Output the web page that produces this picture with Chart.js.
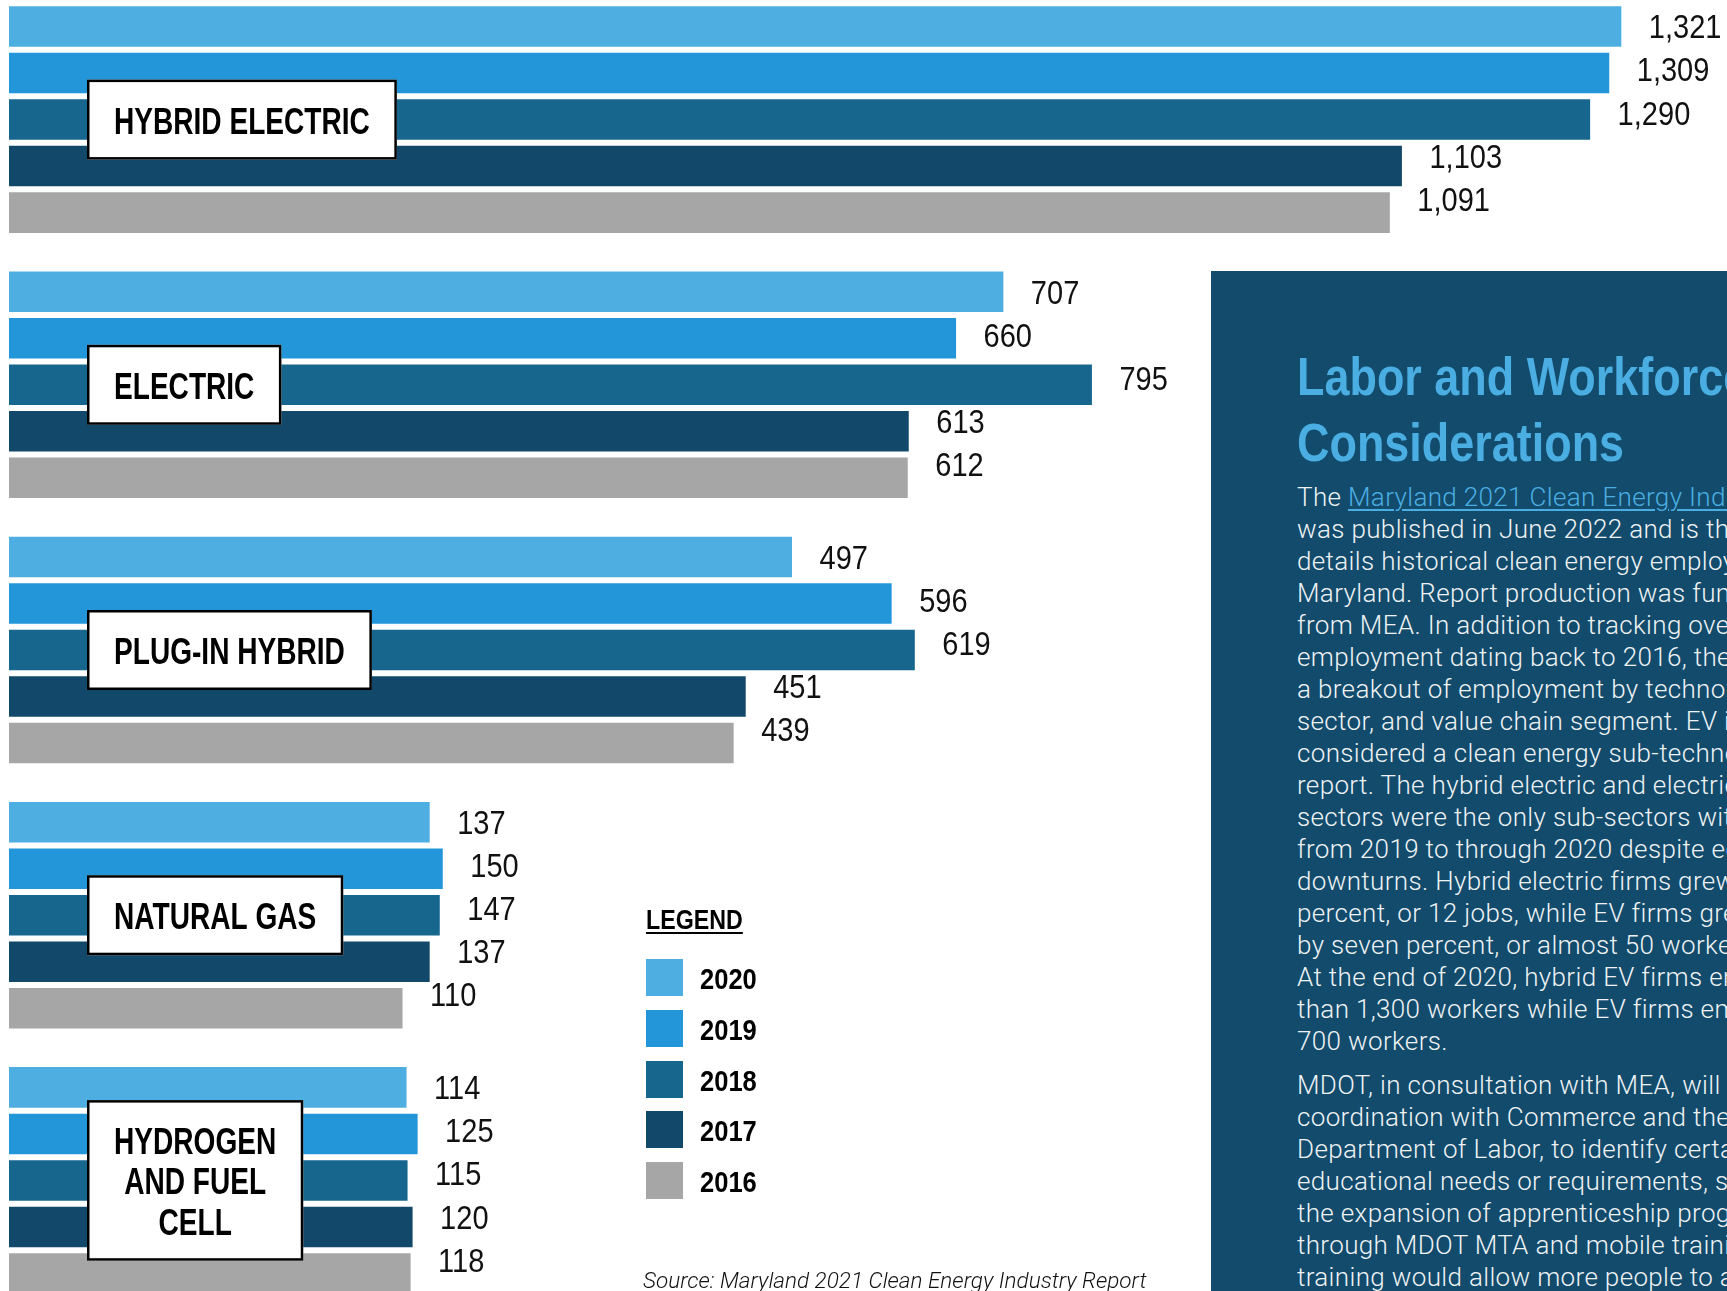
<!DOCTYPE html>
<html>
<head>
<meta charset="utf-8">
<script src="https://cdn.jsdelivr.net/npm/chart.js@4.4.1/dist/chart.umd.min.js"></script>
<style>
  html, body { margin: 0; padding: 0; }
  body { width: 1727px; height: 1291px; overflow: hidden; position: relative; background: #fff; }
  #chartBox { position: absolute; left: 9px; top: -13px; width: 1718px; height: 1326px; }
  .legend { position: absolute; left: 646px; font-family: "Liberation Sans", Arial, sans-serif; font-weight: bold; color: #000; }
  .legend-title { top: 906px; font-size: 28px; line-height: 28px; transform: scaleX(0.83); transform-origin: left;
    text-decoration: underline; text-decoration-thickness: 2px; text-underline-offset: 3px; }
  .legend-item { height: 37px; }
  .legend-item .swatch { position: absolute; left: 0; top: 0; width: 37px; height: 37px; }
  .legend-item .year { position: absolute; left: 54px; top: 6px; font-size: 29px; line-height: 29px; transform: scaleX(0.88); transform-origin: left; }
  .source { position: absolute; left: 643px; top: 1269px; font-family: Roboto, sans-serif; font-weight: 300; font-style: italic;
    font-size: 22.5px; line-height: 22.5px; color: #111; white-space: nowrap; }
  #panel { position: absolute; left: 1211px; top: 271px; right: 0; bottom: 0; background: #124b6b; overflow: hidden; }
  #panel h2 { position: absolute; left: 86px; top: 73px; margin: 0; font-family: "Liberation Sans", Arial, sans-serif; font-weight: bold;
    font-size: 53.5px; line-height: 66px; color: #4baee2; white-space: nowrap; transform: scaleX(0.84); transform-origin: left; }
  #panel p { position: absolute; left: 86px; margin: 0; font-family: Roboto, sans-serif; font-weight: 300; font-size: 26px;
    line-height: 32px; letter-spacing: 0.35px; color: #eef2f5; white-space: nowrap; }
  #panel a { color: #4baee2; text-decoration: underline; text-decoration-thickness: 1.5px; text-underline-offset: 3px; }
</style>
</head>
<body>
<div id="chartBox"><canvas id="jobs" width="1718" height="1326"></canvas></div>

<div class="legend legend-title">LEGEND</div>
<div id="legendItems"></div>
<div class="source">Source: Maryland 2021 Clean Energy Industry Report</div>

<div id="panel">
  <h2>Labor and Workforce<br>Considerations</h2>
  <p style="top:210px">The <a href="#">Maryland 2021 Clean Energy Industry Report</a><br>
was published in June 2022 and is the first that<br>
details historical clean energy employment in<br>
Maryland. Report production was funded<br>
from MEA. In addition to tracking overall<br>
employment dating back to 2016, the report<br>
a breakout of employment by technology,<br>
sector, and value chain segment. EV is<br>
considered a clean energy sub-technology in the<br>
report. The hybrid electric and electric vehicle<br>
sectors were the only sub-sectors with growth<br>
from 2019 to through 2020 despite economic<br>
downturns. Hybrid electric firms grew by one<br>
percent, or 12 jobs, while EV firms grew<br>
by seven percent, or almost 50 workers.<br>
At the end of 2020, hybrid EV firms employed more<br>
than 1,300 workers while EV firms employed over<br>
700 workers.</p>
  <p style="top:798px">MDOT, in consultation with MEA, will work in<br>
coordination with Commerce and the Maryland<br>
Department of Labor, to identify certain<br>
educational needs or requirements, such as<br>
the expansion of apprenticeship programs<br>
through MDOT MTA and mobile training. This<br>
training would allow more people to access</p>
</div>

<script>
// EV jobs by technology, Maryland (Clean Energy Industry Report)
const categories = [['HYBRID ELECTRIC'], ['ELECTRIC'], ['PLUG-IN HYBRID'], ['NATURAL GAS'], ['HYDROGEN', 'AND FUEL', 'CELL']]
const years = ['2020', '2019', '2018', '2017', '2016']
const jobs2020 = [1321, 707, 497, 137, 114]
const jobs2019 = [1309, 660, 596, 150, 125]
const jobs2018 = [1290, 795, 619, 147, 115]
const jobs2017 = [1103, 613, 451, 137, 120]
const jobs2016 = [1091, 612, 439, 110, 118]
const yearColors = ['#4eaee1', '#2296d8', '#16668d', '#12486a', '#a6a6a6']

// the original graphic does not start its value axis at zero
const AXIS_START = -281
const AXIS_END = 1426

const series = [jobs2020, jobs2019, jobs2018, jobs2017, jobs2016]

// legend
const legendBox = document.getElementById('legendItems')
years.forEach((year, i) => {
    const item = document.createElement('div')
    item.className = 'legend legend-item'
    item.style.top = (959 + i * 50.8) + 'px'
    item.innerHTML = '<div class="swatch" style="background:' + yearColors[i] + '"></div><div class="year">' + year + '</div>'
    legendBox.appendChild(item)
})

const condensedText = (ctx, text, x, y, squeeze) => {
    ctx.save()
    ctx.translate(x, y)
    ctx.scale(squeeze, 1)
    ctx.fillText(text, 0, 0)
    ctx.restore()
}

const barLabels = {
    id: 'barLabels',
    afterDatasetsDraw(chart) {
        const ctx = chart.ctx
        ctx.save()
        ctx.fillStyle = '#111'
        ctx.textBaseline = 'alphabetic'
        ctx.textAlign = 'left'
        ctx.font = '33px "Liberation Sans", Arial, sans-serif'
        chart.data.datasets.forEach((ds, i) => {
            chart.getDatasetMeta(i).data.forEach((bar, j) => {
                condensedText(ctx, ds.data[j].toLocaleString('en-US'), bar.x + 27.5, bar.y + 11.8 - 3.4 * i, 0.88)
            })
        })

        // category name boxes
        ctx.font = 'bold 36px "Liberation Sans", Arial, sans-serif'
        chart.data.labels.forEach((lines, j) => {
            const cy = chart.scales.y.getPixelForValue(j)
            const squeeze = 0.78
            const textW = Math.max(...lines.map(l => ctx.measureText(l).width)) * squeeze
            const w = textW + 54
            const h = 26 + (lines.length - 1) * 40.3 + 54
            const left = chart.chartArea.left + 78
            const top = cy - h / 2
            ctx.fillStyle = '#fff'
            ctx.fillRect(left, top, w, h)
            ctx.lineWidth = 2.5
            ctx.strokeStyle = '#000'
            ctx.strokeRect(left + 1.25, top + 1.25, w - 2.5, h - 2.5)
            ctx.fillStyle = '#000'
            lines.forEach((line, k) => {
                const lw = ctx.measureText(line).width * squeeze
                condensedText(ctx, line, left + (w - lw) / 2, top + 54 + k * 40.3, squeeze)
            })
        })
        ctx.restore()
    }
}

new Chart(document.getElementById('jobs'), {
    type: 'bar',
    data: {
        labels: categories,
        datasets: years.map((year, i) => ({
            label: year,
            data: series[i],
            backgroundColor: yearColors[i],
            borderWidth: 0,
            base: AXIS_START,
            categoryPercentage: 0.877,
            barPercentage: 0.871,
        })),
    },
    options: {
        indexAxis: 'y',
        responsive: false,
        animation: false,
        layout: { padding: 0 },
        scales: {
            x: { type: 'linear', min: AXIS_START, max: AXIS_END, display: false },
            y: { display: false },
        },
        plugins: {
            legend: { display: false },
            tooltip: { enabled: false },
        },
    },
    plugins: [barLabels],
})
</script>
</body>
</html>
